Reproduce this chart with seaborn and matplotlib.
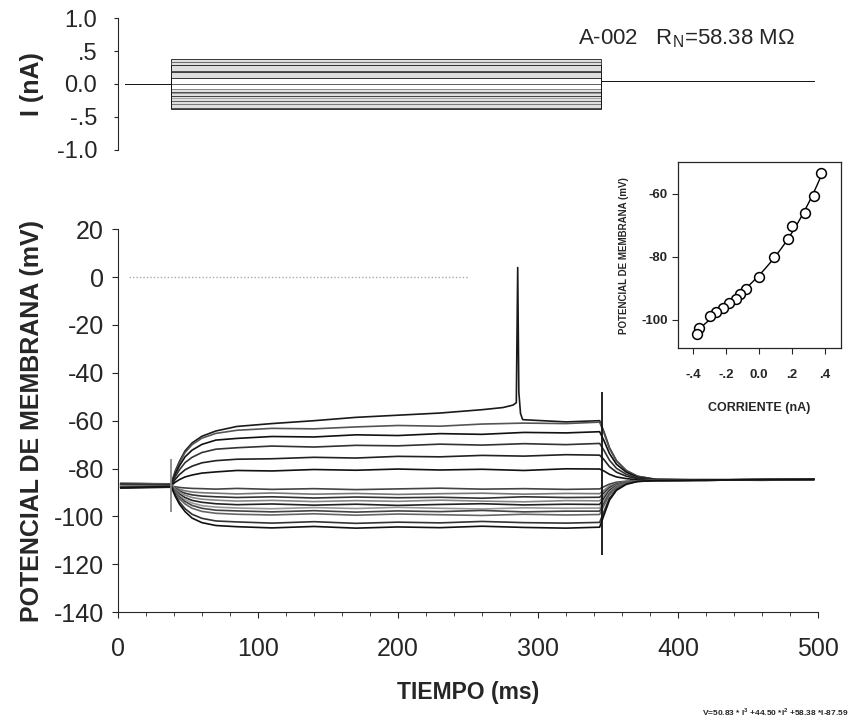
import numpy as np
import pandas as pd
import matplotlib
matplotlib.use('Agg')
import matplotlib.pyplot as plt
import seaborn as sns
from matplotlib.ticker import MultipleLocator

# ──────────────────────────────────────────
# Data
# ──────────────────────────────────────────
# step protocol (ms)
step_on = 38
step_off = 345
rec_start = 2
rec_end = 497

# injected current of each sweep (nA) = x values of the I-V inset
iv_current = [0.378, 0.337, 0.281, 0.204, 0.176, 0.095, 0.004, -0.077,
              -0.117, -0.137, -0.178, -0.218, -0.259, -0.299, -0.360, -0.374]
# steady state membrane potential of each sweep (mV)
iv_voltage = [-53.3, -60.6, -66.1, -70.1, -74.3, -80.0, -86.3, -90.3,
              -91.9, -93.4, -94.7, -96.3, -97.6, -98.9, -102.7, -104.4]

trace_names = ['D1', 'D2', 'D3', 'D4', 'D5', 'D6', 'H0', 'H1',
               'H2', 'H3', 'H4', 'H5', 'H6', 'H7', 'H8', 'H9']

# sample times of the voltage sweeps (ms)
t_grid = [2, 38, 41, 44, 48, 53, 60, 70, 85, 110, 140, 170, 200, 230, 260,
          290, 320, 344, 347, 351, 356, 363, 371, 384, 420, 460, 497]

D1 = [-86.2, -86.4, -81.0, -77.0, -72.6, -69.3, -66.5, -64.3, -62.4, -61.2, -60.0, -58.6, -57.7, -56.8, -55.4,
      -59.6, -60.5, -60.0, -64.5, -71.3, -76.7, -80.8, -83.2, -84.5, -84.8, -84.6, -84.3]
D2 = [-87.5, -87.3, -81.6, -77.6, -73.3, -70.0, -67.3, -65.3, -64.0, -63.2, -63.4, -62.6, -62.0, -62.3, -61.4,
      -61.0, -61.2, -60.6, -65.0, -71.6, -76.9, -80.9, -83.3, -84.5, -84.9, -84.7, -84.5]
D3 = [-86.8, -87.0, -82.3, -78.8, -75.1, -72.3, -69.9, -68.1, -67.4, -66.6, -66.8, -65.9, -66.2, -65.4, -65.7,
      -64.9, -65.1, -64.6, -68.2, -73.7, -78.2, -81.5, -83.6, -84.6, -84.7, -84.9, -84.6]
D4 = [-88.0, -87.6, -83.4, -80.5, -77.5, -75.3, -73.3, -71.9, -71.3, -70.6, -71.0, -70.3, -70.5, -69.8, -70.2,
      -69.6, -70.0, -69.5, -72.3, -76.5, -79.9, -82.4, -83.9, -84.7, -84.6, -84.8, -84.4]
D5 = [-86.5, -86.9, -84.5, -82.5, -80.5, -79.0, -77.6, -76.7, -76.1, -75.9, -75.3, -75.6, -74.9, -75.1, -74.5,
      -74.8, -74.2, -74.4, -76.2, -79.2, -81.5, -83.2, -84.2, -84.8, -84.7, -84.5, -84.6]
D6 = [-87.2, -87.1, -85.7, -84.6, -83.5, -82.7, -81.9, -81.4, -80.8, -81.0, -80.4, -80.7, -80.2, -80.6, -80.3,
      -80.8, -80.1, -80.2, -81.0, -82.4, -83.5, -84.2, -84.7, -84.9, -84.8, -84.6, -84.5]
H0 = [-87.8, -87.4, -87.6, -87.9, -88.1, -88.3, -88.4, -88.6, -88.3, -88.7, -88.4, -88.8, -88.5, -88.2, -88.6,
      -88.4, -88.7, -88.5, -87.6, -86.5, -85.7, -85.3, -85.1, -85.0, -84.9, -84.7, -84.6]
H1 = [-86.9, -87.2, -88.0, -88.7, -89.3, -89.8, -90.1, -90.3, -90.6, -90.2, -90.7, -90.4, -90.8, -90.5, -90.3,
      -90.7, -90.4, -90.5, -89.1, -87.3, -86.2, -85.4, -85.1, -85.0, -84.8, -84.6, -84.5]
H2 = [-87.4, -86.9, -88.3, -89.4, -90.3, -91.0, -91.5, -91.8, -92.1, -91.8, -92.3, -91.9, -92.2, -92.0, -92.4,
      -91.8, -92.1, -92.0, -90.2, -88.0, -86.5, -85.6, -85.1, -85.0, -84.9, -84.7, -84.5]
H3 = [-86.0, -86.6, -88.6, -89.9, -91.1, -92.1, -92.8, -93.2, -93.6, -93.3, -93.8, -93.4, -93.7, -93.2, -93.6,
      -93.9, -93.4, -93.5, -91.4, -88.6, -86.8, -85.7, -85.2, -85.0, -84.8, -84.7, -84.5]
H4 = [-88.2, -87.8, -89.2, -90.7, -92.1, -93.3, -94.1, -94.7, -95.1, -94.8, -95.3, -94.9, -95.4, -95.0, -94.7,
      -95.2, -94.9, -95.0, -92.5, -89.2, -87.1, -85.8, -85.2, -85.0, -84.9, -84.7, -84.6]
H5 = [-87.0, -87.3, -89.5, -91.3, -93.0, -94.4, -95.5, -96.1, -96.5, -96.8, -96.3, -96.7, -96.2, -96.6, -96.9,
      -96.4, -96.6, -96.5, -93.6, -89.8, -87.4, -85.9, -85.2, -85.0, -84.8, -84.6, -84.5]
H6 = [-86.6, -86.8, -89.8, -91.9, -93.8, -95.4, -96.6, -97.4, -97.7, -98.1, -97.6, -98.2, -97.7, -98.0, -97.5,
      -98.1, -97.8, -97.8, -94.6, -90.4, -87.7, -86.0, -85.3, -85.0, -84.9, -84.7, -84.5]
H7 = [-87.6, -87.2, -90.2, -92.6, -94.8, -96.6, -97.9, -98.7, -99.1, -99.4, -98.9, -99.5, -99.0, -99.3, -99.6,
      -99.1, -99.4, -99.2, -95.6, -91.0, -88.0, -86.1, -85.3, -85.0, -84.8, -84.6, -84.5]
H8 = [-86.4, -86.7, -91.0, -94.0, -96.8, -99.1, -100.8, -101.9, -102.3, -102.8, -102.2, -102.9, -102.4, -102.7, -102.1,
      -102.6, -102.8, -102.5, -98.1, -92.4, -88.7, -86.4, -85.4, -85.0, -84.9, -84.7, -84.5]
H9 = [-87.9, -87.5, -91.6, -94.9, -98.0, -100.7, -102.6, -103.8, -104.3, -104.8, -104.2, -104.9, -104.4, -104.7, -104.1,
      -104.6, -104.9, -104.5, -99.6, -93.2, -89.1, -86.6, -85.4, -85.0, -84.8, -84.6, -84.5]
traces = [D1, D2, D3, D4, D5, D6, H0, H1, H2, H3, H4, H5, H6, H7, H8, H9]

# action potential on the largest sweep (inserted between 260 and 290 ms)
spike_t = [275, 282, 284.5, 285.5, 286.3, 287.5, 289]
spike_v = [-54.5, -53.5, -52.5, 4.0, -48.0, -57.0, -59.5]

# capacitive artifacts at step on / off (time, low, high)
artifact_t = [38, 345.5]
artifact_lo = [-98, -116]
artifact_hi = [-76, -48]

trace_colors = ['#1a1a1a', '#555555', '#111111', '#333333', '#222222', '#111111', '#444444', '#777777',
                '#333333', '#888888', '#222222', '#999999', '#444444', '#666666', '#333333', '#111111']

y_ticks_i = [1.0, 0.5, 0.0, -0.5, -1.0]
y_labels_i = ['1.0', '.5', '0.0', '-.5', '-1.0']
x_ticks_in = [-0.4, -0.2, 0.0, 0.2, 0.4]
x_labels_in = ['-.4', '-.2', '0.0', '.2', '.4']

# ──────────────────────────────────────────
# Build long tables
# ──────────────────────────────────────────
rows_v = []
for name, vals in zip(trace_names, traces):
    tt = list(t_grid)
    vv = list(vals)
    if name == 'D1':
        tt = t_grid[:15] + spike_t + t_grid[15:]
        vv = vals[:15] + spike_v + vals[15:]
    for t, v in zip(tt, vv):
        rows_v.append({'t': t, 'V': v, 'trace': name})
df_v = pd.DataFrame(rows_v)

rows_i = []
for name, cur in zip(trace_names, iv_current):
    tt = [rec_start + 3, step_on, step_on, step_off, step_off, rec_end]
    ii = [0.0, 0.0, cur, cur, 0.04, 0.04]
    for t, i in zip(tt, ii):
        rows_i.append({'t': t, 'I': i, 'trace': name})
df_i = pd.DataFrame(rows_i)

palette = dict(zip(trace_names, trace_colors))

# ──────────────────────────────────────────
# Figure
# ──────────────────────────────────────────
sns.set_style('ticks')
plt.rcParams['font.family'] = ['Liberation Sans', 'DejaVu Sans']
plt.rcParams['axes.unicode_minus'] = False
plt.rcParams['mathtext.fontset'] = 'custom'
plt.rcParams['mathtext.rm'] = 'Liberation Sans'

fig = plt.figure(figsize=(8.54, 7.21), dpi=100)
ax_i = fig.add_axes([0.138, 0.792, 0.82, 0.183])
ax_v = fig.add_axes([0.138, 0.151, 0.82, 0.531])
ax_in = fig.add_axes([0.794, 0.517, 0.191, 0.258])

# current panel
pos = [c for c in iv_current if c > 0.05]
neg = [c for c in iv_current if c < -0.05]
ax_i.fill_between([step_on, step_off], min(pos), max(pos), color='#c8c8c8', alpha=0.6, lw=0)
ax_i.fill_between([step_on, step_off], min(neg), max(neg), color='#c8c8c8', alpha=0.6, lw=0)
sns.lineplot(data=df_i, x='t', y='I', hue='trace', palette=palette, estimator=None,
             sort=False, legend=False, linewidth=0.7, alpha=0.85, ax=ax_i)
ax_i.set_xlim(0, 500)
ax_i.set_ylim(-1.0, 1.0)
ax_i.set_yticks(y_ticks_i, labels=y_labels_i)
ax_i.set_xticks([])
ax_i.set_xlabel('')
ax_i.set_ylabel('I (nA)', fontsize=18, fontweight='bold')
ax_i.yaxis.set_label_coords(-0.106, 0.5)
ax_i.tick_params(axis='y', labelsize=17, length=3, pad=12)
sns.despine(ax=ax_i, bottom=True)

# voltage panel
ax_v.hlines(0, 8, 250, colors='#aaaaaa', linestyles=(0, (1, 1.5)), lw=1)
sns.lineplot(data=df_v, x='t', y='V', hue='trace', palette=palette, estimator=None,
             sort=False, legend=False, linewidth=1.2, ax=ax_v)
ax_v.vlines(artifact_t, artifact_lo, artifact_hi, colors=['#888888', '#111111'], lw=1.3)
ax_v.set_xlim(0, 500)
ax_v.set_ylim(-140, 20)
ax_v.set_yticks(np.arange(-140, 21, 20))
ax_v.set_xticks(np.arange(0, 501, 100))
ax_v.xaxis.set_minor_locator(MultipleLocator(20))
ax_v.tick_params(axis='both', labelsize=18, length=4)
ax_v.tick_params(axis='x', pad=14)
ax_v.tick_params(axis='y', pad=6)
ax_v.tick_params(axis='x', which='minor', length=3)
ax_v.set_xlabel('TIEMPO (ms)', fontsize=16.5, fontweight='bold', labelpad=14)
ax_v.set_ylabel('POTENCIAL DE MEMBRANA (mV)', fontsize=18, fontweight='bold')
ax_v.yaxis.set_label_coords(-0.106, 0.5)
sns.despine(ax=ax_v)

# I-V inset
sns.regplot(x=iv_current, y=iv_voltage, order=3, ci=None, scatter=False, truncate=True,
            line_kws=dict(color='black', lw=1), ax=ax_in)
sns.scatterplot(x=iv_current, y=iv_voltage, marker='o', s=50, facecolor='white',
                edgecolor='black', linewidth=1.1, zorder=3, ax=ax_in)
ax_in.set_xlim(-0.49, 0.50)
ax_in.set_ylim(-109, -50)
ax_in.set_xticks(x_ticks_in, labels=x_labels_in)
ax_in.set_yticks([-60, -80, -100])
ax_in.tick_params(axis='both', labelsize=9.5, length=4, width=0.8)
ax_in.tick_params(axis='x', pad=11)
for lab in ax_in.get_xticklabels() + ax_in.get_yticklabels():
    lab.set_fontweight('bold')
ax_in.set_xlabel('CORRIENTE (nA)', fontsize=9, fontweight='bold')
ax_in.xaxis.set_label_coords(0.5, -0.29)
ax_in.set_ylabel('POTENCIAL DE MEMBRANA (mV)', fontsize=7, fontweight='bold')
ax_in.yaxis.set_label_coords(-0.30, 0.5)
for sp in ax_in.spines.values():
    sp.set_visible(True)
    sp.set_linewidth(0.9)

# annotations
fig.text(0.677, 0.947, 'A-002   R$_\\mathregular{N}$=58.38 M\u03a9', fontsize=16, ha='left', va='center')
fig.text(0.993, 0.0125, 'V=50.83 * I$^\\mathregular{3}$ +44.50 *I$^\\mathregular{2}$ +58.38 *I-87.59',
         fontsize=6, fontweight='bold', ha='right', va='center')

plt.savefig('out.png', dpi=100)
